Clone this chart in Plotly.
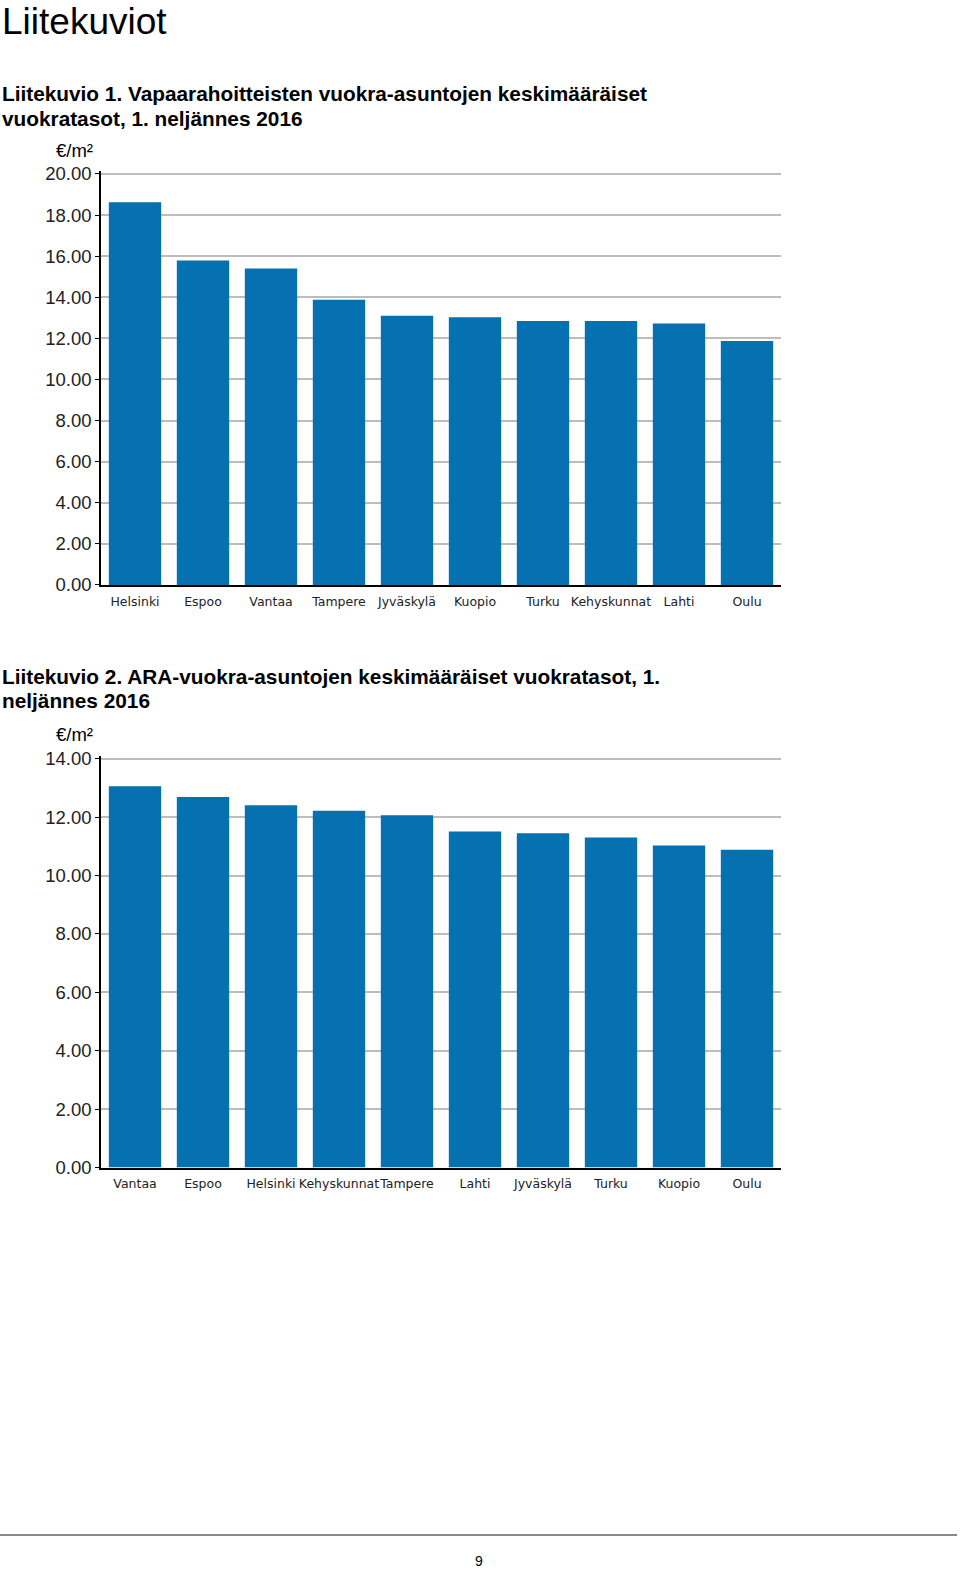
import plotly.graph_objects as go

W, H = 960, 1572

# Chart 1 data
cities1 = ["Helsinki", "Espoo", "Vantaa", "Tampere", "Jyväskylä", "Kuopio",
           "Turku", "Kehyskunnat", "Lahti", "Oulu"]
rent1 = [18.63, 15.79, 15.40, 13.88, 13.10, 13.03, 12.85, 12.85, 12.72, 11.87]

# Chart 2 data
cities2 = ["Vantaa", "Espoo", "Helsinki", "Kehyskunnat", "Tampere", "Lahti",
           "Jyväskylä", "Turku", "Kuopio", "Oulu"]
rent2 = [13.06, 12.69, 12.41, 12.22, 12.06, 11.51, 11.45, 11.30, 11.03, 10.88]

ticks1 = [0, 2, 4, 6, 8, 10, 12, 14, 16, 18, 20]
ticks2 = [0, 2, 4, 6, 8, 10, 12, 14]

BAR = "#0571b0"
GRID = "#bdbdbd"

def px_x(p):
    return p / W

def px_y(p):
    return 1 - p / H

fig = go.Figure()
fig.add_trace(go.Bar(x=cities1, y=rent1, marker=dict(color=BAR, line=dict(width=0)),
                     xaxis="x", yaxis="y", showlegend=False))
fig.add_trace(go.Bar(x=cities2, y=rent2, marker=dict(color=BAR, line=dict(width=0)),
                     xaxis="x2", yaxis="y2", showlegend=False))

xdom = [px_x(101), px_x(781)]
ytick_font = dict(family="Liberation Sans", size=18.5, color="#222")
xtick_font = dict(family="DejaVu Sans", size=12.5, color="#222")

common_x = dict(showgrid=False, showline=True, linecolor="black", linewidth=1.5,
                ticks="", tickangle=0, tickfont=xtick_font, fixedrange=True,
                ticklabelstandoff=4, automargin=False)
common_y = dict(showgrid=True, gridcolor=GRID, gridwidth=1.5, showline=True,
                linecolor="black", linewidth=1.5, ticks="outside", ticklen=4,
                tickcolor="black", tickfont=ytick_font, tickformat=".2f",
                ticklabelstandoff=0, zeroline=False, fixedrange=True,
                automargin=False)

# slight headroom so the top gridline is drawn
top1, top2 = 20.15, 14.1
fig.update_layout(
    width=W, height=H,
    margin=dict(l=0, r=0, t=0, b=0, pad=0, autoexpand=False),
    paper_bgcolor="white", plot_bgcolor="white",
    bargap=0.23,
    xaxis=dict(domain=xdom, anchor="y", **common_x),
    yaxis=dict(domain=[px_y(585), px_y(585 - top1 * 20.55)], anchor="x",
               range=[0, top1], tickvals=ticks1, **common_y),
    xaxis2=dict(domain=xdom, anchor="y2", **common_x),
    yaxis2=dict(domain=[px_y(1167.5), px_y(1167.5 - top2 * 29.2)], anchor="x2",
                range=[0, top2], tickvals=ticks2, **common_y),
)

def txt(text, x, y, size, bold=False, xanchor="left", yanchor="middle",
        family="Liberation Sans"):
    fig.add_annotation(text=f"<b>{text}</b>" if bold else text,
                       x=px_x(x), y=px_y(y), xref="paper", yref="paper",
                       xanchor=xanchor, yanchor=yanchor, showarrow=False,
                       borderpad=0,
                       font=dict(family=family, size=size, color="black"))

txt("Liitekuviot", 1, 0, 37, yanchor="top")
txt("Liitekuvio 1. Vapaarahoitteisten vuokra-asuntojen keskimääräiset", 1, 93, 20.8, bold=True)
txt("vuokratasot, 1. neljännes 2016", 1, 118, 20.8, bold=True)
txt("€/m²", 74, 151, 18.5, xanchor="center")

txt("Liitekuvio 2. ARA-vuokra-asuntojen keskimääräiset vuokratasot, 1.", 1, 676, 20.8, bold=True)
txt("neljännes 2016", 1, 701, 20.8, bold=True)
txt("€/m²", 74, 734, 18.5, xanchor="center")

fig.add_shape(type="line", xref="paper", yref="paper",
              x0=0, x1=px_x(957), y0=px_y(1535), y1=px_y(1535),
              line=dict(color="#888888", width=2))
txt("9", 479, 1561, 14, xanchor="center")

fig.write_html("out.html", config={"displayModeBar": False},
               post_script="document.body.style.margin='0';document.body.style.overflow='hidden';")
